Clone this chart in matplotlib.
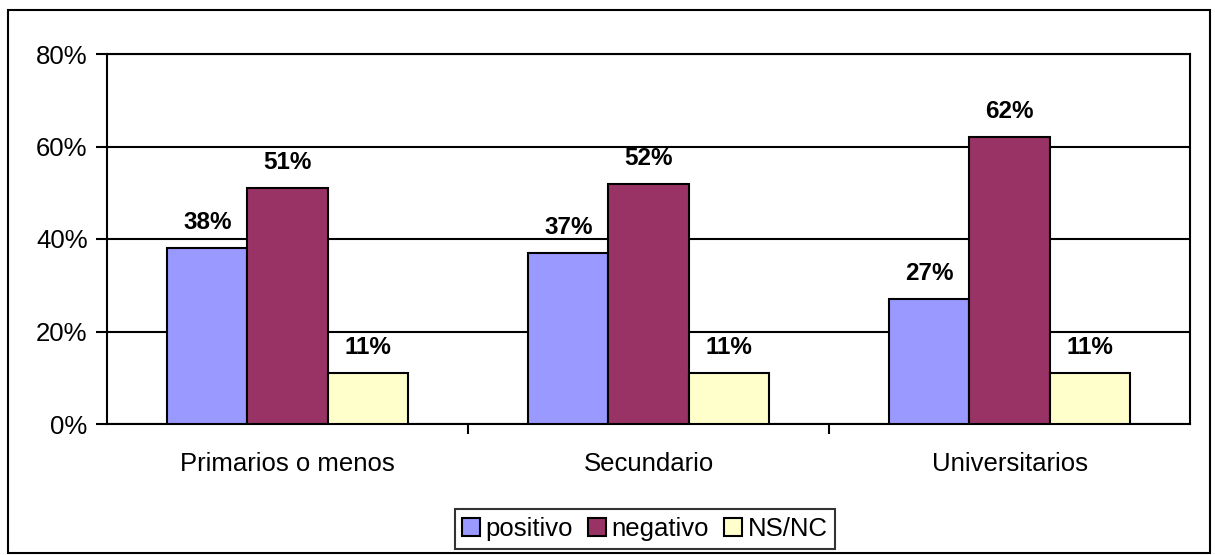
import numpy as np
import matplotlib.pyplot as plt
from matplotlib.patches import Rectangle

plt.rcParams['font.family'] = ['Liberation Sans', 'DejaVu Sans']

categories = ['Primarios o menos', 'Secundario', 'Universitarios']
series_names = ['positivo', 'negativo', 'NS/NC']
positivo = [38, 37, 27]
negativo = [51, 52, 62]
nsnc = [11, 11, 11]
colors = ['#9999FF', '#993366', '#FFFFCC']
y_ticks = [0, 20, 40, 60, 80]

fig = plt.figure(figsize=(12.15, 5.55), dpi=100)
ax = fig.add_axes([107/1215, 1 - 424/555, 1083/1215, 370/555])

# outer chart border
fig.patches.append(Rectangle((8/1215, 2/555), 1202/1215, 543/555, transform=fig.transFigure,
                             fill=False, edgecolor='black', linewidth=1.5))

x = np.arange(len(categories))
w = 0.222
for k, (vals, name) in enumerate(zip([positivo, negativo, nsnc], series_names)):
    pos = x + (k - 1) * w
    bars = ax.bar(pos, vals, width=w, color=colors[k], edgecolor='black', linewidth=1.5,
                  label=name, zorder=3)
    for b, v in zip(bars, vals):
        ax.annotate(f'{v}%', (b.get_x() + b.get_width() / 2, v), xytext=(0, 10),
                    textcoords='offset points', ha='center', va='bottom',
                    fontsize=17.5, fontweight='bold')

ax.set_xlim(-0.5, 2.5)
ax.set_ylim(0, 80)
ax.set_yticks(y_ticks)
ax.set_yticklabels([f'{t}%' for t in y_ticks], fontsize=18.5)
ax.yaxis.grid(True, color='black', linewidth=1.5, zorder=0)
ax.tick_params(axis='y', length=8, width=1.5, direction='out', pad=6)

ax.set_xticks([0.5, 1.5])
ax.set_xticklabels([])
ax.set_xticks(x, minor=True)
ax.set_xticklabels(categories, minor=True, fontsize=18.5)
ax.tick_params(axis='x', which='major', length=7, width=1.5, direction='out')
ax.tick_params(axis='x', which='minor', length=0, pad=20)

for s in ax.spines.values():
    s.set_linewidth(1.5)
    s.set_color('black')

leg = fig.legend(loc='center', bbox_to_anchor=(645/1215, 1 - 529/555), ncol=3, fontsize=18.5,
                 frameon=True, fancybox=False, edgecolor='black', handlelength=0.7,
                 handleheight=0.7, handletextpad=0.2, columnspacing=0.6,
                 borderpad=0.3, borderaxespad=0)
leg.get_frame().set_linewidth(1.5)

fig.savefig('out.png', dpi=100)
